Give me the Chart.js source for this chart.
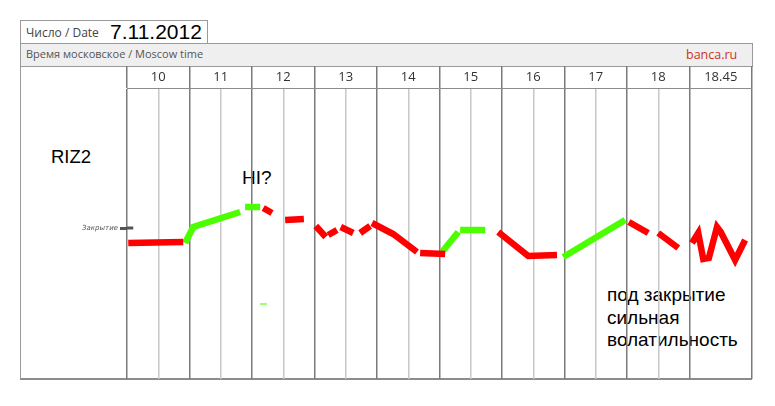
<!DOCTYPE html>
<html>
<head>
<meta charset="utf-8">
<script src="https://cdn.jsdelivr.net/npm/chart.js@4"></script>
<style>
  body { margin: 0; background: #fff; }
  #wrap { position: relative; width: 775px; height: 406px; overflow: hidden; }
  .abs { position: absolute; white-space: nowrap; }
  .hdr { font-family: "Open Sans", sans-serif; }
  .note { font-family: "Liberation Sans", Arial, sans-serif; color: #000; }
  canvas { position: absolute; left: 0; top: 0; }
</style>
</head>
<body>
<div id="wrap">
  <div class="abs" style="left:20px;top:20px;width:186px;height:23px;border:1px solid #9a9a9a;border-bottom:none;"></div>
  <div class="abs" style="left:20px;top:43px;width:731px;height:22px;background:#efefef;border:1px solid #9a9a9a;"></div>
  <div class="abs" style="left:20px;top:66px;width:731px;height:312px;border-left:1px solid #9a9a9a;border-bottom:2px solid #8c8c8c;"></div>

  <div class="abs hdr" style="left:26px;top:24px;font-size:12px;color:#444;">Число / Date</div>
  <div class="abs note" style="left:110px;top:20px;font-size:21px;">7.11.2012</div>
  <div class="abs hdr" style="left:26px;top:46px;font-size:11px;color:#555;">Время московское / Moscow time</div>
  <div class="abs hdr" style="left:686px;top:46px;font-size:12.5px;color:#d2321e;">banca.ru</div>

  <div class="abs note" style="left:51px;top:146px;font-size:18.5px;">RIZ2</div>
  <div class="abs note" style="left:242px;top:167px;font-size:19px;">HI?</div>
  <div class="abs note" style="left:607px;top:284px;font-size:19px;line-height:22.5px;">под закрытие<br>сильная<br>волатильность</div>

  <canvas id="chart" width="775" height="406"></canvas>
</div>
<script>
// hour columns (10:00 ... 18:45), x in hours
var hourLabels = ['10', '11', '12', '13', '14', '15', '16', '17', '18', '18.45'];

// red pieces of the price line, null = break
var redX = [10.02, 10.90, null, 12.18, 12.32, null, 12.53, 12.83, null, 13.02, 13.18, null,
  13.22, 13.36, null, 13.42, 13.62, null, 13.73, 13.89, null, 13.92, 14.26, 14.64, null,
  14.69, 15.09, null, 15.94, 16.42, 16.88, null, 18.03, 18.34, null, 18.50, 18.82, null,
  19.04, 19.14, 19.22, 19.31, 19.44, 19.50, 19.73, 19.89];
var redY = [136, 137, null, 171, 166, null, 159, 160, null, 153, 142, null,
  144, 149, null, 152, 146, null, 146, 153, null, 156, 145, 127, null,
  126, 125, null, 147, 123, 124, null, 157, 146, null, 146, 131, null,
  136, 146, 120, 121, 152, 147, 119, 139];

// green pieces
var greenX = [10.93, 11.06, 11.81, null, 11.89, 12.13, null, 15.04, 15.30, null, 15.33, 15.73, null, 16.98, 17.97];
var greenY = [136, 152, 167, null, 172, 172, null, 127, 147, null, 149, 149, null, 122, 159];

// small light green mark
var markX = [12.13, 12.24];
var markY = [75, 75];

// closing level
var closeLevel = 151;
var closeX = [10, 10.1];

function toPoints(xs, ys) {
  var pts = [];
  var lastX = xs[0];
  for (var i = 0; i < xs.length; i++) {
    if (xs[i] === null) {
      pts.push({ x: lastX + 0.01, y: null });
    } else {
      pts.push({ x: xs[i], y: ys[i] });
      lastX = xs[i];
    }
  }
  return pts;
}

var lineBase = {
  borderWidth: 6.5,
  pointRadius: 0,
  tension: 0,
  spanGaps: false,
  borderCapStyle: 'butt',
  borderJoinStyle: 'miter',
  xAxisID: 'x',
  yAxisID: 'y'
};

var ctx = document.getElementById('chart');
var chart = new Chart(ctx, {
  type: 'line',
  data: {
    datasets: [
      Object.assign({}, lineBase, { data: toPoints(redX, redY), borderColor: '#ff0000' }),
      Object.assign({}, lineBase, { data: toPoints(greenX, greenY), borderColor: '#4cff00' }),
      Object.assign({}, lineBase, { data: toPoints(markX, markY), borderColor: '#99ff77', borderWidth: 2 }),
      Object.assign({}, lineBase, { data: toPoints(closeX, [closeLevel, closeLevel]), borderColor: '#555555', borderWidth: 3 })
    ]
  },
  options: {
    responsive: false,
    animation: false,
    events: [],
    layout: { padding: { left: 20, right: 23, top: 66, bottom: 27 } },
    plugins: { legend: { display: false }, tooltip: { enabled: false } },
    scales: {
      x: {
        type: 'linear',
        position: 'bottom',
        min: 10,
        max: 20,
        ticks: { display: false, stepSize: 0.5 },
        border: { display: false },
        grid: {
          drawTicks: false,
          lineWidth: 1.5,
          color: function (c) {
            var v = c.tick.value;
            if (v % 1 !== 0 && v < 19.5) return '#c8c8c8';
            return 'rgba(0,0,0,0)';
          }
        },
        afterFit: function (s) { s.height = 0; }
      },
      top: {
        type: 'category',
        position: 'top',
        labels: hourLabels,
        offset: true,
        ticks: { color: '#333', font: { family: 'Open Sans', size: 13 }, padding: -19, maxRotation: 0, autoSkip: false },
        border: { color: '#8c8c8c', width: 1 },
        grid: { offset: true, color: '#7a7a7a', lineWidth: 1.5, tickLength: 22, drawOnChartArea: true },
        afterFit: function (s) { s.height = 22; }
      },
      y: {
        type: 'linear',
        min: 0,
        max: 291,
        afterBuildTicks: function (s) { s.ticks = [{ value: closeLevel }]; },
        ticks: {
          callback: function () { return 'Закрытие'; },
          color: '#555',
          font: { family: 'DejaVu Sans', size: 7, style: 'italic' },
          padding: 2
        },
        border: { display: false },
        grid: { drawOnChartArea: false, tickLength: 7, color: '#555', lineWidth: 3 },
        afterFit: function (s) { s.width = 107; }
      }
    }
  }
});
</script>
</body>
</html>
